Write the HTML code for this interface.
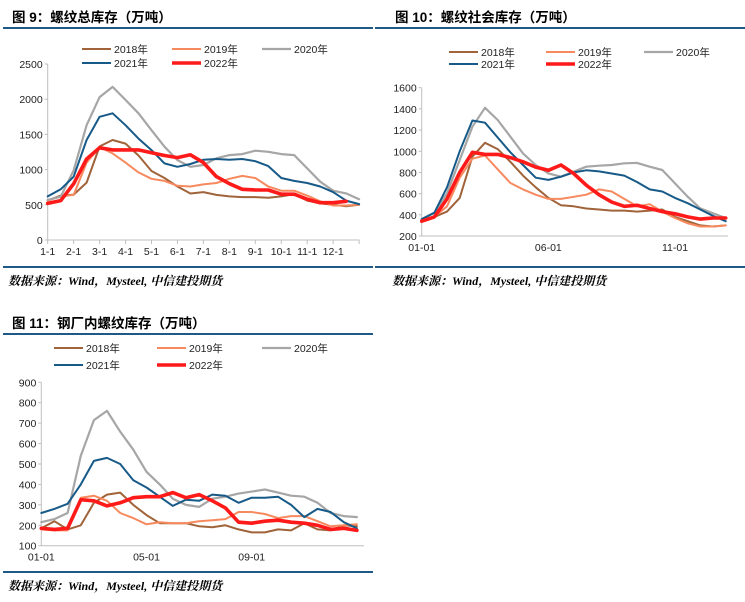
<!DOCTYPE html>
<html><head><meta charset="utf-8">
<style>
html,body{margin:0;padding:0;background:#fff;}
body{width:745px;height:602px;position:relative;overflow:hidden;font-family:"Liberation Sans","Noto Sans CJK SC",sans-serif;}
.title{position:absolute;font-weight:bold;font-size:13.5px;color:#000;}
.rule{position:absolute;height:2px;background:#1f5a87;}
.src{position:absolute;font-family:"Liberation Serif","Noto Serif CJK SC",serif;font-style:italic;font-weight:bold;font-size:12px;color:#000;}
svg{position:absolute;left:0;top:0;}
svg text{font-family:"Liberation Sans","Noto Sans CJK SC",sans-serif;font-size:10.5px;fill:#222;}
</style></head><body>
<div class="title" style="left:12px;top:6px;">图 9：螺纹总库存（万吨）</div>
<div class="rule" style="left:3px;top:27px;width:370px;"></div>
<div class="rule" style="left:3px;top:266px;width:370px;"></div>
<div class="src" style="left:8px;top:272px;">数据来源：Wind，Mysteel, 中信建投期货</div>

<div class="title" style="left:395px;top:6px;">图 10：螺纹社会库存（万吨）</div>
<div class="rule" style="left:375px;top:27px;width:370px;"></div>
<div class="rule" style="left:375px;top:266px;width:370px;"></div>
<div class="src" style="left:392px;top:272px;">数据来源：Wind，Mysteel, 中信建投期货</div>

<div class="title" style="left:12px;top:312px;">图 11：钢厂内螺纹库存（万吨）</div>
<div class="rule" style="left:3px;top:333px;width:370px;"></div>
<div class="rule" style="left:3px;top:571px;width:370px;"></div>
<div class="src" style="left:8px;top:577px;">数据来源：Wind，Mysteel, 中信建投期货</div>

<svg id="svg" width="745" height="602"></svg>

<script>
// Shared: x positions in months (0 = Jan 1), half-month steps
const monthSteps = [0,0.5,1,1.5,2,2.5,3,3.5,4,4.5,5,5.5,6,6.5,7,7.5,8,8.5,9,9.5,10,10.5,11,11.5,12];
const seriesNames = ['2018年','2019年','2020年','2021年','2022年'];

// Chart 9: total rebar inventory
const c9Ticks = [0,500,1000,1500,2000,2500];
const c9XLabels = ['1-1','2-1','3-1','4-1','5-1','6-1','7-1','8-1','9-1','10-1','11-1','12-1'];
const c9_2018 = [560,630,645,815,1330,1420,1370,1200,980,880,760,660,680,640,620,610,610,600,620,650,560,520,500,480,500];
const c9_2019 = [560,620,640,1100,1320,1230,1100,960,870,840,770,760,790,810,870,910,880,760,700,700,630,550,490,490,500];
const c9_2020 = [570,615,990,1630,2030,2175,1990,1800,1560,1325,1135,1040,1065,1160,1206,1220,1268,1253,1220,1206,1017,828,700,662,580];
const c9_2021 = [620,720,900,1420,1750,1800,1630,1440,1277,1088,1040,1080,1140,1150,1140,1150,1120,1050,880,840,810,760,680,560,510];
const c9_2022 = [520,560,800,1150,1310,1280,1280,1280,1240,1200,1170,1210,1100,900,800,720,710,710,650,650,580,530,530,550,null];

// Chart 10: social inventory
const c10Ticks = [200,400,600,800,1000,1200,1400,1600];
const c10XLabels = ['01-01','06-01','11-01'];
const c10XLabelMonths = [0,5,10];
const c10_2018 = [350,380,430,560,950,1080,1020,900,770,660,560,490,480,460,450,440,440,430,440,450,380,340,300,290,300];
const c10_2019 = [340,380,480,750,930,960,830,700,640,590,550,550,570,590,640,620,550,480,500,430,370,320,290,290,300];
const c10_2020 = [360,420,603,917,1232,1410,1295,1137,980,870,791,760,807,854,864,870,886,890,854,823,697,571,461,414,370];
const c10_2021 = [360,420,660,1000,1290,1270,1130,990,870,750,730,760,800,820,810,790,770,710,640,620,560,510,450,390,340];
const c10_2022 = [340,380,550,800,990,970,970,940,900,850,820,870,790,680,590,520,480,490,460,430,410,380,360,370,370];

// Chart 11: mill inventory
const c11Ticks = [100,200,300,400,500,600,700,800,900];
const c11XLabels = ['01-01','05-01','09-01'];
const c11XLabelMonths = [0,4,8];
const c11_2018 = [185,220,180,200,310,350,360,300,250,210,210,210,195,190,200,180,165,165,180,175,210,180,175,200,195];
const c11_2019 = [180,175,175,335,345,320,260,235,205,215,210,210,220,225,230,265,265,255,235,245,245,220,195,200,205];
const c11_2020 = [215,230,260,540,715,760,658,570,462,400,330,300,290,330,340,355,365,375,360,345,340,310,260,245,240];
const c11_2021 = [260,280,305,400,515,530,500,420,385,340,295,325,320,350,345,310,335,335,340,300,240,280,265,215,185];
const c11_2022 = [185,180,185,325,320,295,310,335,340,340,360,335,350,320,285,215,210,220,225,215,210,200,180,185,175];

const colors = ['#a0633a','#f7895e','#a6a6a6','#175a88','#ff1a1a'];
const widths = [2,2,2.2,2,3.6];
const svg = document.getElementById('svg');
const NS = 'http://www.w3.org/2000/svg';
function mk(tag, attrs){const e=document.createElementNS(NS,tag);for(const k in attrs)e.setAttribute(k,attrs[k]);svg.appendChild(e);return e;}

function drawChart(cfg){
  const xS = m => cfg.x0 + m*cfg.mw;
  const yS = v => cfg.yb - (v-cfg.vmin)/(cfg.vmax-cfg.vmin)*(cfg.yb-cfg.yt);
  const ya = mk('line',{x1:cfg.x0,y1:cfg.yt,x2:cfg.x0,y2:cfg.yb,stroke:'#bfbfbf','stroke-width':1});
  
  
  const xa = mk('line',{x1:cfg.x0,y1:cfg.yb,x2:cfg.xEnd,y2:cfg.yb,stroke:'#bfbfbf','stroke-width':1});
  
  
  cfg.ticks.forEach(t=>{
    const y=yS(t);
    mk('line',{x1:cfg.x0-3,y1:y,x2:cfg.x0,y2:y,stroke:'#bfbfbf'});
    const tx=mk('text',{x:cfg.x0-5,y:y+4,'text-anchor':'end'});
    tx.textContent=t;
    
    
  });
  cfg.xLabels.forEach((lab,i)=>{
    const x = xS(cfg.xLabelMonths[i]);
    const tx=mk('text',{x:x,y:cfg.yb+15,'text-anchor':'middle'});
    tx.textContent=lab;
    
    
  });
  cfg.xTickMonths.forEach(m=>{
    mk('line',{x1:xS(m),y1:cfg.yb,x2:xS(m),y2:cfg.yb+4,stroke:'#bfbfbf'});
  });
  cfg.series.forEach((arr,si)=>{
    let pts=[];
    arr.forEach((v,i)=>{ if(v!==null) pts.push(xS(monthSteps[i]).toFixed(1)+','+yS(v).toFixed(1)); });
    const pl=mk('polyline',{points:pts.join(' '),fill:'none',stroke:colors[si],'stroke-width':widths[si],'stroke-linejoin':'round','stroke-linecap':'round'});
    
    
  });
  cfg.legend.forEach((p,si)=>{
    const l=mk('line',{x1:p[0],y1:p[1],x2:p[0]+29,y2:p[1],stroke:colors[si],'stroke-width':widths[si]});
    
    
    const t=mk('text',{x:p[0]+32,y:p[1]+4});
    t.textContent=seriesNames[si];
    
    
  });
}

drawChart({id:'chart9',x0:47.7,mw:25.95,xEnd:359.5,yt:64,yb:240,vmin:0,vmax:2500,ticks:c9Ticks,
  xLabels:c9XLabels,xLabelMonths:[0,1,2,3,4,5,6,7,8,9,10,11],xTickMonths:[0,1,2,3,4,5,6,7,8,9,10,11,12],
  series:[c9_2018,c9_2019,c9_2020,c9_2021,c9_2022],
  legend:[[82,49],[172,49],[262,49],[82,63],[172,63]]});

drawChart({id:'chart10',x0:421.7,mw:25.33,xEnd:728,yt:87.7,yb:236,vmin:200,vmax:1600,ticks:c10Ticks,
  xLabels:c10XLabels,xLabelMonths:c10XLabelMonths,xTickMonths:[],
  series:[c10_2018,c10_2019,c10_2020,c10_2021,c10_2022],
  legend:[[449,52],[546,52],[644,52],[449,64],[546,64]]});

drawChart({id:'chart11',x0:41.3,mw:26.3,xEnd:364,yt:382.3,yb:545.7,vmin:100,vmax:900,ticks:c11Ticks,
  xLabels:c11XLabels,xLabelMonths:c11XLabelMonths,xTickMonths:[],
  series:[c11_2018,c11_2019,c11_2020,c11_2021,c11_2022],
  legend:[[54,348],[157,348],[262,348],[54,365],[157,365]]});
</script>
</body></html>
